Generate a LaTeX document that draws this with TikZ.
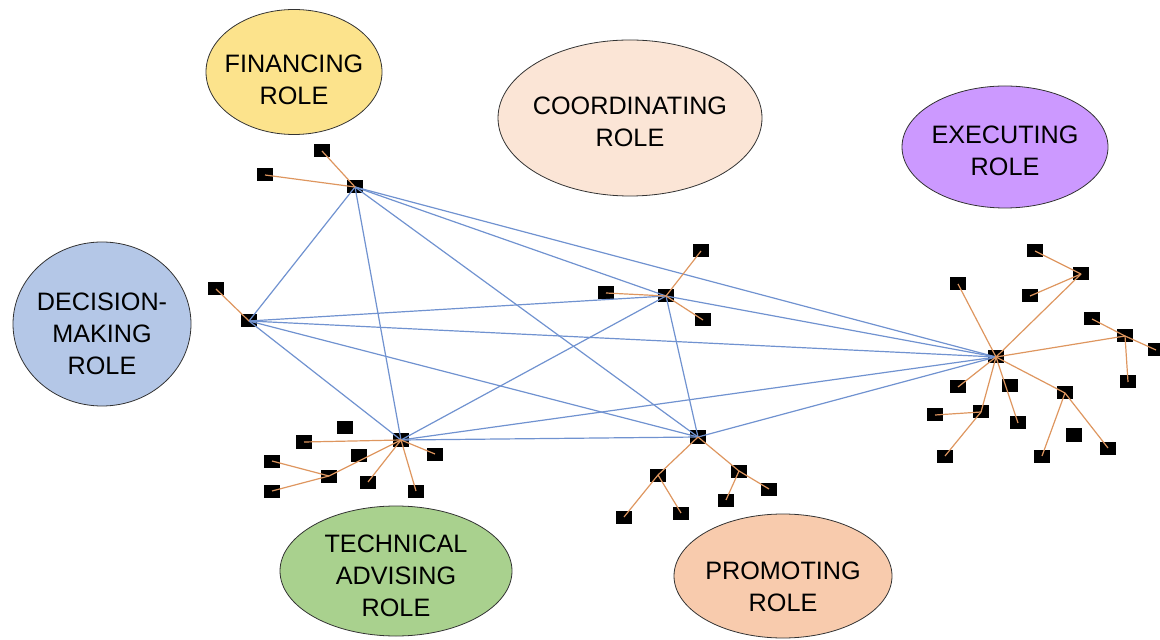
\documentclass[tikz,border=0pt]{standalone}
\usepackage{fontspec}
\setmainfont{Liberation Sans}
\usetikzlibrary{shapes.geometric}
\definecolor{finfill}{RGB}{252,227,140}
\definecolor{decfill}{RGB}{180,199,231}
\definecolor{coofill}{RGB}{251,229,214}
\definecolor{exefill}{RGB}{204,153,255}
\definecolor{tecfill}{RGB}{169,209,142}
\definecolor{profill}{RGB}{248,203,173}
\definecolor{linkblue}{RGB}{112,146,208}
\definecolor{twigorange}{RGB}{222,150,95}
% strut that pushes a role text down a little
\newcommand\dn[1]{\rule{0pt}{#1}}
\tikzset{
  role/.style={ellipse,draw=black!80,thin,inner sep=-8pt,align=center,font=\fontsize{12.6}{16}\selectfont},
  box/.style={fill=black,inner sep=0pt,minimum width=8pt,minimum height=6.5pt},
  link/.style={draw=linkblue,line width=0.6pt},
  twig/.style={draw=twigorange,line width=0.6pt}
}
\begin{document}
\begin{tikzpicture}[x=0.5pt,y=-0.5pt]
      \useasboundingbox (0,0) rectangle (1160,640);
      % roles
      \node[role,fill=finfill,minimum width=88pt,minimum height=62.5pt] (fin) at (294,72) {\dn{17pt}FINANCING\\ROLE};
      \node[role,fill=decfill,minimum width=89pt,minimum height=82pt] (dec) at (102,324) {\dn{19pt}DECISION-\\MAKING\\ROLE};
      \node[role,fill=coofill,minimum width=132pt,minimum height=78pt] (coo) at (630,118) {\dn{13pt}COORDINATING\\ROLE};
      \node[role,fill=exefill,minimum width=103pt,minimum height=61pt] (exe) at (1005,147) {\dn{13pt}EXECUTING\\ROLE};
      \node[role,fill=tecfill,minimum width=116pt,minimum height=65pt] (tec) at (396,571) {\dn{14pt}TECHNICAL\\ADVISING\\ROLE};
      \node[role,fill=profill,minimum width=109pt,minimum height=62pt] (pro) at (783,576) {\dn{20pt}PROMOTING\\ROLE};
      % hubs
      \node[box] (hF) at (355,187) {};
      \node[box] (hD) at (249,321) {};
      \node[box] (hC) at (666,296) {};
      \node[box] (hT) at (401,440) {};
      \node[box] (hP) at (698,437) {};
      \node[box] (hE) at (996,357) {};
      % leaves
      \foreach \n/\x/\y in {f1/322/151,f2/265/175,d1/216/289,c1/701/251,c2/606/293,c3/703/320,
          p1/658/475,p2/624/517,p3/681/513,p4/739/471,p5/769/489,p6/726/500,
          t1/345/428,t2/304/442,t3/359/455,t4/329/476,t5/272/461,t6/272/491,t7/368/482,t8/416/491,t9/435/454,
          e1/958/284,e2/1035/251,e3/1081/274,e4/1030/296,e5/1092/319,e6/1125/336,e7/1156/350,e8/1128/382,
          e9/958/387,e10/1010/386,e11/1065/393,e12/981/412,e13/935/415,e14/1018/423,e15/1074/435,
          e16/945/456,e17/1042/456,e18/1108/448}
        \node[box] (\n) at (\x,\y) {};
      % links between hubs
      \foreach \a/\b in {hF/hD,hF/hC,hF/hT,hF/hP,hF/hE,hD/hC,hD/hT,hD/hP,hD/hE,hC/hT,hC/hP,hC/hE,hT/hP,hT/hE,hP/hE}
        \draw[link] (\a.center) -- (\b.center);
      % twigs
      \foreach \a/\b in {hF/f1,hF/f2,hD/d1,hC/c1,hC/c2,hC/c3,
          hP/p1,p1/p2,p1/p3,hP/p4,p4/p5,p4/p6,
          hT/t2,hT/t4,t4/t5,t4/t6,hT/t7,hT/t8,hT/t9,
          hE/e1,hE/e3,e3/e2,e3/e4,hE/e6,e6/e5,e6/e7,e6/e8,hE/e9,hE/e11,e11/e17,e11/e18,
          hE/e12,e12/e13,e12/e16,hE/e14}
        \draw[twig] (\a.center) -- (\b.center);
    \end{tikzpicture}
\end{document}
